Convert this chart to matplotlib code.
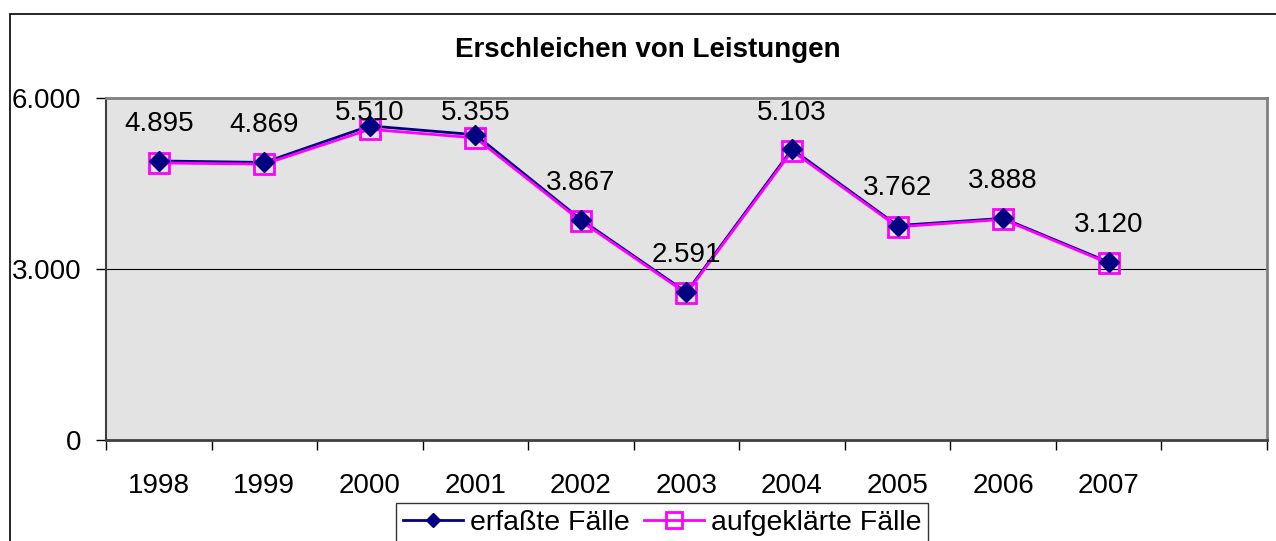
import matplotlib.pyplot as plt
from matplotlib.lines import Line2D
from matplotlib.patches import Rectangle
import numpy as np

plt.rcParams['font.family'] = ['Liberation Sans', 'DejaVu Sans']

# Werte aus der Grafik
jahre = ['1998', '1999', '2000', '2001', '2002', '2003', '2004', '2005', '2006', '2007']
erfasst = [4895, 4869, 5510, 5355, 3867, 2591, 5103, 3762, 3888, 3120]
aufgeklaert = [4860, 4840, 5450, 5300, 3840, 2570, 5070, 3740, 3870, 3100]
beschriftung = ['4.895', '4.869', '5.510', '5.355', '3.867', '2.591', '5.103', '3.762', '3.888', '3.120']

fig = plt.figure(figsize=(12.76, 5.41), dpi=100)
ax = fig.add_axes([0.0831, 0.1867, 0.9098, 0.6322])
ax.set_facecolor('#e3e3e3')

x = np.arange(len(jahre))

# outer chart border (clipped at right and bottom like the original)
fig.patches.append(Rectangle((10 / 1276, -0.1), 1.2, 1 - 14 / 541 + 0.1,
                             transform=fig.transFigure, fill=False,
                             edgecolor='black', linewidth=1.2, zorder=0))

ax.axhline(3000, color='black', linewidth=0.8, zorder=1)

ax.plot(x, erfasst, color='#000080', linewidth=2, zorder=3)
ax.plot(x, aufgeklaert, color='#ff00ff', linewidth=2, marker='s', markersize=15,
        markerfacecolor='none', markeredgecolor='#ff00ff', markeredgewidth=2, zorder=4)
ax.plot(x, erfasst, linestyle='none', marker='D', markersize=10,
        color='#000080', zorder=5)

# data labels above the points, pushed down when they would leave the plot
for xi, v, txt in zip(x, erfasst, beschriftung):
    y_lab = min(v + 650, 5740)
    ax.text(xi, y_lab, txt, ha='center', va='center', fontsize=20, zorder=6)

ax.set_xlim(-0.5, 10.5)
ax.set_ylim(0, 6000)
ax.set_yticks([0, 3000, 6000])
ax.set_yticklabels(['0', '3.000', '6.000'], fontsize=20)
ax.set_xticks(x)
ax.set_xticklabels(jahre, fontsize=20)
ax.set_xticks(np.arange(-0.5, 11, 1), minor=True)
ax.tick_params(axis='x', which='major', length=0, pad=24)
ax.tick_params(axis='x', which='minor', length=7, width=1, color='black')
ax.tick_params(axis='y', length=7, width=1, pad=11)

for side in ['top', 'right']:
    ax.spines[side].set_color('#808080')
    ax.spines[side].set_linewidth(2)
ax.spines['bottom'].set_color('#404040')
ax.spines['bottom'].set_linewidth(2)
ax.spines['left'].set_color('#404040')
ax.spines['left'].set_linewidth(1.5)

fig.text(0.508, 0.908, 'Erschleichen von Leistungen', ha='center', va='center',
         fontsize=20, fontweight='bold')

handles = [
    Line2D([], [], color='#000080', linewidth=2, marker='D', markersize=7),
    Line2D([], [], color='#ff00ff', linewidth=2, marker='s', markersize=11,
           markerfacecolor='none', markeredgewidth=2),
]
leg = fig.legend(handles, ['erfaßte Fälle', 'aufgeklärte Fälle'], ncol=2,
                 loc='upper center', bbox_to_anchor=(662 / 1276, 1 - 503 / 541),
                 fontsize=20.5, frameon=True, fancybox=False, handlelength=2.1,
                 handletextpad=0.25, columnspacing=0.5, borderpad=0.25,
                 borderaxespad=0)
leg.get_frame().set_edgecolor('black')
leg.get_frame().set_linewidth(1)

fig.savefig('out.png', dpi=100)
